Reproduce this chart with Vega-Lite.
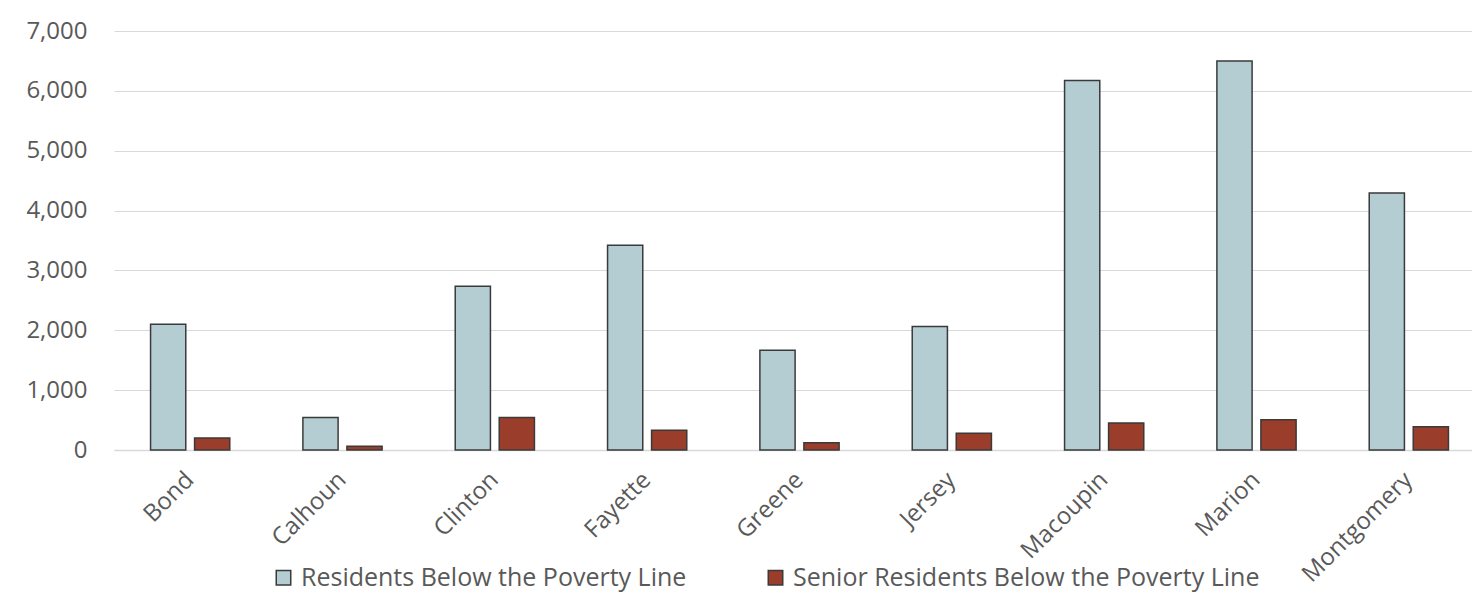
{
  "$schema": "https://vega.github.io/schema/vega-lite/v6.json",
  "autosize": {"type": "none"},
  "padding": {"left": 114, "top": 31, "right": 0, "bottom": 145},
  "width": 1371,
  "height": 419,
  "background": "white",
  "config": {
    "view": {"stroke": null},
    "font": "Open Sans"
  },
  "data": {
    "values": [
      {"county": "Bond", "series": "Residents Below the Poverty Line", "value": 2100},
      {"county": "Bond", "series": "Senior Residents Below the Poverty Line", "value": 200},
      {"county": "Calhoun", "series": "Residents Below the Poverty Line", "value": 545},
      {"county": "Calhoun", "series": "Senior Residents Below the Poverty Line", "value": 62},
      {"county": "Clinton", "series": "Residents Below the Poverty Line", "value": 2735},
      {"county": "Clinton", "series": "Senior Residents Below the Poverty Line", "value": 545},
      {"county": "Fayette", "series": "Residents Below the Poverty Line", "value": 3422},
      {"county": "Fayette", "series": "Senior Residents Below the Poverty Line", "value": 330},
      {"county": "Greene", "series": "Residents Below the Poverty Line", "value": 1665},
      {"county": "Greene", "series": "Senior Residents Below the Poverty Line", "value": 122},
      {"county": "Jersey", "series": "Residents Below the Poverty Line", "value": 2065},
      {"county": "Jersey", "series": "Senior Residents Below the Poverty Line", "value": 278},
      {"county": "Macoupin", "series": "Residents Below the Poverty Line", "value": 6175},
      {"county": "Macoupin", "series": "Senior Residents Below the Poverty Line", "value": 451},
      {"county": "Marion", "series": "Residents Below the Poverty Line", "value": 6497},
      {"county": "Marion", "series": "Senior Residents Below the Poverty Line", "value": 507},
      {"county": "Montgomery", "series": "Residents Below the Poverty Line", "value": 4292},
      {"county": "Montgomery", "series": "Senior Residents Below the Poverty Line", "value": 390}
    ]
  },
  "mark": {"type": "bar", "stroke": "#3a3a3a", "strokeWidth": 1.5},
  "encoding": {
    "x": {
      "field": "county",
      "type": "nominal",
      "sort": null,
      "scale": {"paddingInner": 0.48, "paddingOuter": 0.24},
      "axis": {
        "title": null,
        "labelAngle": -45,
        "labelAlign": "right",
        "labelBaseline": "middle",
        "labelPadding": 26,
        "labelFontSize": 24,
        "labelColor": "#595959",
        "ticks": false,
        "domain": true,
        "domainColor": "#d9d9d9",
        "domainWidth": 1.5
      }
    },
    "xOffset": {
      "field": "series",
      "type": "nominal",
      "scale": {"paddingInner": 0.2}
    },
    "y": {
      "field": "value",
      "type": "quantitative",
      "scale": {"domain": [0, 7000], "nice": false},
      "axis": {
        "title": null,
        "values": [0, 1000, 2000, 3000, 4000, 5000, 6000, 7000],
        "format": ",.0f",
        "labelFontSize": 24,
        "labelColor": "#595959",
        "labelPadding": 27,
        "ticks": false,
        "domain": false,
        "gridColor": "#d9d9d9",
        "gridWidth": 1.2
      }
    },
    "color": {
      "field": "series",
      "type": "nominal",
      "scale": {
        "domain": ["Residents Below the Poverty Line", "Senior Residents Below the Poverty Line"],
        "range": ["#b4cdd3", "#9b3d2b"]
      },
      "legend": {
        "title": null,
        "orient": "none",
        "legendX": 157,
        "legendY": 534,
        "direction": "horizontal",
        "columns": 2,
        "columnPadding": 76,
        "symbolType": "square",
        "symbolSize": 210,
        "symbolStrokeColor": "#3a3a3a",
        "symbolStrokeWidth": 1.5,
        "symbolOpacity": 1,
        "labelFontSize": 25,
        "labelColor": "#595959",
        "labelLimit": 600,
        "labelOffset": 5
      }
    }
  }
}
